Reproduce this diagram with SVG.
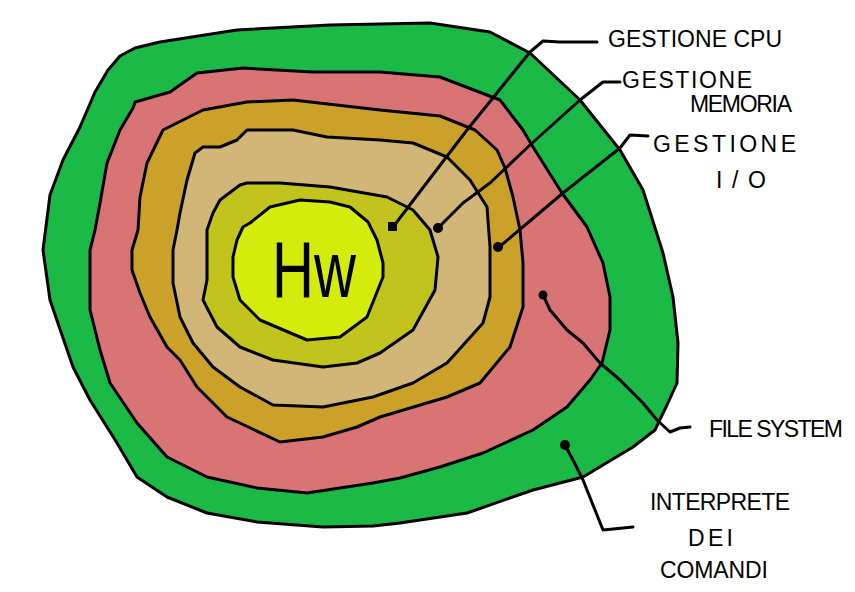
<svg xmlns="http://www.w3.org/2000/svg" width="855" height="592" viewBox="0 0 855 592">
<style>
.layer{stroke:#000;stroke-width:3;stroke-linejoin:round;stroke-linecap:round}
.lead{fill:none;stroke:#000;stroke-width:3;stroke-linejoin:round;stroke-linecap:round}
.dot{fill:#000}
.lbl{font-family:"Liberation Sans",Arial,sans-serif;font-size:23px;fill:#000}
.hw{font-family:"Liberation Sans",Arial,sans-serif;fill:#000}
</style>
<rect width="855" height="592" fill="#fff"/>
<g id="interprete-comandi">
<path class="layer" fill="#1bb946" d="M80,127 L95,92 L108,70 L120,56 L135,48 L160,42 L237,30 L330,25 L430,23 L490,32 L530,53 L580,100 L620,150 L643,190 L663,253 L673,297 L678,343 L677,383 L667,405 L655,430 L633,447 L583,477 L533,490 L467,513 L400,523 L373,526 L323,527 L257,522 L207,513 L167,497 L137,477 L117,443 L90,400 L73,367 L50,300 L43,250 L50,195 L63,160 Z"/>
</g>
<g id="file-system">
<path class="layer" fill="#d87474" d="M95,230 L100,203 L107,163 L120,130 L133,108 L135,102 L170,92 L197,73 L243,68 L313,72 L380,72 L440,77 L500,100 L523,130 L533,147 L562,193 L587,227 L603,263 L610,297 L610,330 L602,363 L590,380 L567,407 L533,430 L483,453 L440,467 L400,478 L373,483 L307,493 L257,488 L207,477 L167,457 L137,423 L110,383 L100,350 L90,310 L90,250 Z"/>
</g>
<g id="gestione-io">
<path class="layer" fill="#cca12a" d="M138,230 L140,197 L147,163 L163,130 L203,110 L247,102 L293,100 L380,110 L440,116 L475,130 L497,150 L505,168 L513,197 L520,230 L523,263 L523,307 L510,347 L480,383 L447,397 L380,417 L357,427 L323,437 L280,442 L227,417 L197,387 L180,360 L167,347 L150,317 L140,293 L132,270 L132,250 Z"/>
</g>
<g id="gestione-memoria">
<path class="layer" fill="#d1b677" d="M177,230 L180,213 L187,180 L195,153 L203,147 L220,147 L237,140 L247,130 L293,130 L327,137 L380,140 L413,143 L447,157 L470,180 L487,207 L490,247 L490,297 L483,323 L447,363 L413,383 L373,397 L323,407 L273,405 L240,387 L213,367 L193,343 L180,317 L173,283 L173,250 Z"/>
</g>
<g id="gestione-cpu">
<path class="layer" fill="#c2c41d" d="M207,230 L213,213 L220,200 L240,185 L247,183 L280,183 L330,187 L387,197 L413,210 L430,230 L438,257 L435,290 L413,330 L380,353 L357,363 L323,367 L273,360 L240,347 L217,327 L203,300 L207,280 L207,250 Z"/>
</g>
<g id="hw">
<path class="layer" fill="#d4ec0c" d="M243,227 L250,223 L270,207 L300,200 L330,202 L350,207 L368,222 L377,240 L383,263 L383,277 L367,317 L340,337 L307,340 L260,320 L240,300 L233,277 L233,257 L237,240 Z"/>
<text class="hw" x="272" y="297" font-size="80" textLength="84" lengthAdjust="spacingAndGlyphs">Hw</text>
</g>
<g id="connectors">
<path class="lead" d="M393,227 L467,130 L530,52 L543,41 L560,42 L597,42"/>
<path class="lead" d="M438,228 L463,203 L490,183 L530,145 L580,100 L603,82 L620,82"/>
<path class="lead" d="M498,248 L563,193 L620,148 L630,135 L648,136"/>
<path class="lead" d="M543,295 L550,310 L567,330 L583,343 L600,363 L620,380 L643,403 L657,420 L670,432 L680,428 L690,427"/>
<path class="lead" d="M565,445 L573,460 L583,480 L603,530 L633,527"/>
<rect class="dot" x="388" y="222" width="9" height="9"/>
<circle class="dot" cx="438" cy="228" r="5"/>
<circle class="dot" cx="498" cy="247" r="5"/>
<circle class="dot" cx="543" cy="295" r="4.5"/>
<circle class="dot" cx="565" cy="445" r="5"/>
</g>
<g id="labels">
<text class="lbl" x="608" y="47" textLength="174" lengthAdjust="spacing">GESTIONE CPU</text>
<text class="lbl" x="622" y="88" textLength="130" lengthAdjust="spacing">GESTIONE</text>
<text class="lbl" x="690" y="112" textLength="102" lengthAdjust="spacing">MEMORIA</text>
<text class="lbl" x="653" y="152" textLength="143" lengthAdjust="spacing">GESTIONE</text>
<text class="lbl" x="716" y="188" textLength="50" lengthAdjust="spacing">I/O</text>
<text class="lbl" x="709" y="437" font-size="22" textLength="134" lengthAdjust="spacing">FILE SYSTEM</text>
<text class="lbl" x="650" y="510" textLength="140" lengthAdjust="spacing">INTERPRETE</text>
<text class="lbl" x="688" y="546" font-size="19" textLength="45" lengthAdjust="spacing">DEI</text>
<text class="lbl" x="660" y="578" textLength="108" lengthAdjust="spacing">COMANDI</text>
</g>
</svg>
